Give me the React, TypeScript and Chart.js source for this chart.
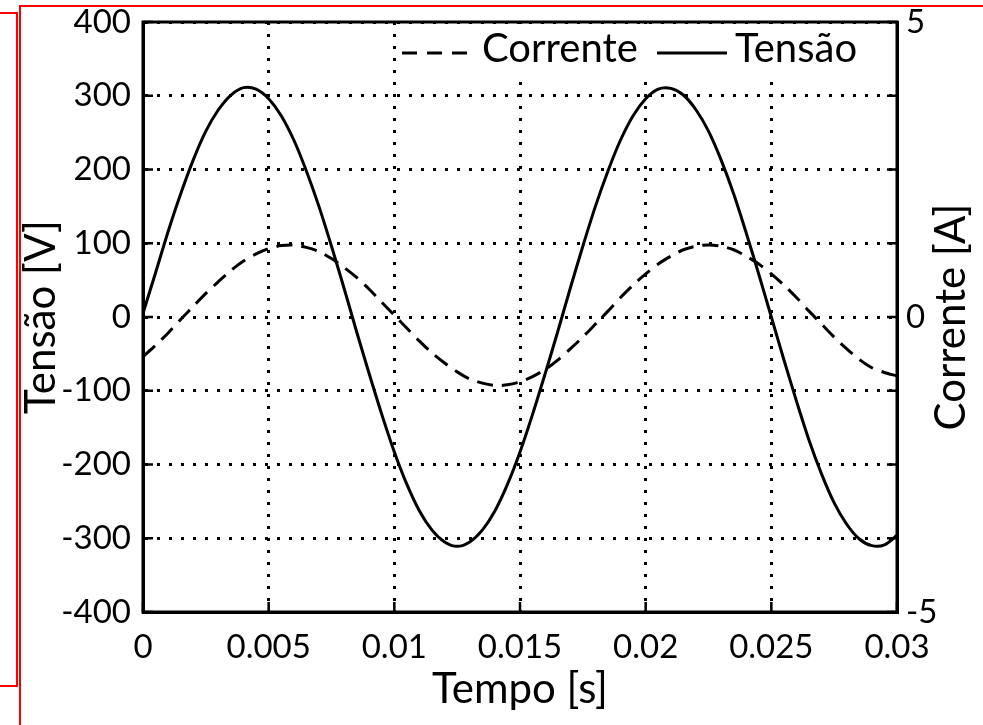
import React, { useEffect, useRef } from 'react';
import { Chart, registerables } from 'chart.js';
Chart.register(...registerables);

const tempo = [0, 0.0005, 0.001, 0.0015, 0.002, 0.0025, 0.003, 0.0035, 0.004, 0.0045, 0.005, 0.0055, 0.006, 0.0065, 0.007, 0.0075, 0.008, 0.0085, 0.009, 0.0095, 0.01, 0.0105, 0.011, 0.0115, 0.012, 0.0125, 0.013, 0.0135, 0.014, 0.0145, 0.015, 0.0155, 0.016, 0.0165, 0.017, 0.0175, 0.018, 0.0185, 0.019, 0.0195, 0.02, 0.0205, 0.021, 0.0215, 0.022, 0.0225, 0.023, 0.0235, 0.024, 0.0245, 0.025, 0.0255, 0.026, 0.0265, 0.027, 0.0275, 0.028, 0.0285, 0.029, 0.0295, 0.03];

const tensao = [5, 60, 116, 167, 213, 252, 281, 301, 311, 309, 296, 273, 240, 198, 150, 96, 39, -20, -77, -132, -183, -227, -263, -289, -305, -311, -305, -289, -263, -227, -183, -132, -77, -20, 39, 96, 150, 198, 240, 273, 296, 309, 310, 301, 281, 252, 213, 167, 114, 58, 0, -58, -114, -167, -213, -252, -281, -301, -310, -309, -296];

const corrente = [-0.67, -0.48, -0.27, -0.04, 0.18, 0.40, 0.60, 0.79, 0.95, 1.07, 1.16, 1.21, 1.22, 1.18, 1.11, 0.99, 0.84, 0.67, 0.47, 0.25, 0.03, -0.19, -0.41, -0.61, -0.78, -0.93, -1.05, -1.12, -1.16, -1.15, -1.10, -1.01, -0.89, -0.73, -0.54, -0.34, -0.12, 0.10, 0.33, 0.54, 0.73, 0.90, 1.03, 1.14, 1.20, 1.22, 1.20, 1.14, 1.03, 0.90, 0.73, 0.54, 0.33, 0.10, -0.12, -0.34, -0.54, -0.72, -0.86, -0.94, -1.00];

const xTickLabels = ['0', '0.005', '0.01', '0.015', '0.02', '0.025', '0.03'];
const rightTickLabels = ['-5', '0', '5'];

const FONT = 'Lato';

const decorPlugin = {
  id: 'decor',
  afterDraw(chart: any) {
    const { ctx, chartArea } = chart;
    const { left, right, top, bottom } = chartArea;
    const yL = chart.scales.y;
    const x = chart.scales.x;
    ctx.save();
    // legend box
    ctx.fillStyle = '#fff';
    ctx.fillRect(398, top + 2, right - 400, 52);
    ctx.strokeStyle = '#000';
    ctx.lineWidth = 3;
    ctx.setLineDash([15, 10]);
    ctx.beginPath();
    ctx.moveTo(402, 53);
    ctx.lineTo(470, 53);
    ctx.stroke();
    ctx.setLineDash([]);
    ctx.beginPath();
    ctx.moveTo(657, 53);
    ctx.lineTo(727, 53);
    ctx.stroke();
    ctx.fillStyle = '#000';
    ctx.font = `40px ${FONT}`;
    ctx.textBaseline = 'alphabetic';
    ctx.textAlign = 'left';
    ctx.fillText('Corrente', 482, 62);
    ctx.fillText('Tensão', 735, 62);
    // inward ticks
    ctx.lineWidth = 2.5;
    ctx.beginPath();
    yL.ticks.forEach((t: any) => {
      const py = yL.getPixelForValue(t.value);
      ctx.moveTo(left, py);
      ctx.lineTo(left + 10, py);
      ctx.moveTo(right, py);
      ctx.lineTo(right - 10, py);
    });
    x.ticks.forEach((t: any) => {
      const px = x.getPixelForValue(t.value);
      ctx.moveTo(px, bottom);
      ctx.lineTo(px, bottom - 10);
    });
    ctx.stroke();
    // frame
    ctx.lineWidth = 3;
    ctx.strokeRect(left, top, right - left, bottom - top);
    // right title
    ctx.save();
    ctx.translate(951, (top + bottom) / 2);
    ctx.rotate(-Math.PI / 2);
    ctx.font = `42px ${FONT}`;
    ctx.textAlign = 'center';
    ctx.textBaseline = 'middle';
    ctx.fillText('Corrente [A]', 0, 0);
    ctx.restore();
    ctx.restore();
  },
};

const noPadY = (w: number) => (s: any) => {
  s.width = w;
  s.paddingTop = 0;
  s.paddingBottom = 0;
};

export default function App() {
  const ref = useRef<HTMLCanvasElement>(null);
  useEffect(() => {
    if (!ref.current) return;
    const chart = new Chart(ref.current, {
      type: 'line',
      data: {
        datasets: [
          {
            label: 'Tensão',
            data: tempo.map((t, i) => ({ x: t, y: tensao[i] })),
            borderColor: '#000',
            borderWidth: 3,
            pointRadius: 0,
            tension: 0.3,
            yAxisID: 'y',
          },
          {
            label: 'Corrente',
            data: tempo.map((t, i) => ({ x: t, y: corrente[i] })),
            borderColor: '#000',
            borderWidth: 3,
            borderDash: [16, 9],
            pointRadius: 0,
            tension: 0.3,
            yAxisID: 'y1',
          },
        ],
      },
      options: {
        animation: false,
        responsive: false,
        devicePixelRatio: 1,
        layout: { padding: { top: 22, left: 0, right: 0, bottom: 0 } },
        plugins: { legend: { display: false }, tooltip: { enabled: false } },
        scales: {
          x: {
            type: 'linear',
            min: 0,
            max: 0.03,
            afterFit: (s: any) => {
              s.height = 113;
              s.paddingLeft = 0;
              s.paddingRight = 0;
            },
            afterBuildTicks: (s: any) => {
              s.ticks = xTickLabels.map((l) => ({ value: parseFloat(l) }));
            },
            ticks: {
              callback: (_v: any, i: number) => xTickLabels[i],
              font: { family: FONT, size: 33 },
              color: '#000',
              padding: 16,
              maxRotation: 0,
              autoSkip: false,
            },
            grid: { color: '#000', lineWidth: 3, drawTicks: false },
            border: { display: true, color: '#000', width: 3, dash: [3, 9] },
            title: {
              display: true,
              text: 'Tempo [s]',
              font: { family: FONT, size: 42 },
              color: '#000',
              padding: { top: 0, bottom: 10 },
            },
          },
          y: {
            position: 'left',
            min: -400,
            max: 400,
            afterFit: noPadY(143),
            ticks: {
              stepSize: 100,
              callback: (v: any) => String(v),
              font: { family: FONT, size: 33 },
              color: '#000',
              padding: 12,
            },
            grid: { color: '#000', lineWidth: 3, drawTicks: false },
            border: { display: true, color: '#000', width: 3, dash: [3, 9] },
            title: {
              display: true,
              text: 'Tensão [V]',
              font: { family: FONT, size: 42 },
              color: '#000',
              padding: { top: 16, bottom: 0 },
            },
          },
          y1: {
            position: 'right',
            min: -5,
            max: 5,
            afterFit: noPadY(86),
            afterBuildTicks: (s: any) => {
              s.ticks = rightTickLabels.map((l) => ({ value: parseFloat(l) }));
            },
            ticks: {
              callback: (_v: any, i: number) => rightTickLabels[i],
              font: { family: FONT, size: 33 },
              color: '#000',
              padding: 9,
              autoSkip: false,
            },
            grid: { display: false, drawTicks: false },
            border: { display: true, color: '#000', width: 3 },
          },
        },
      },
      plugins: [decorPlugin],
    });
    return () => chart.destroy();
  }, []);

  return (
    <div style={{ position: 'absolute', left: 0, top: 0, width: 983, height: 725, overflow: 'hidden', background: '#fff' }}>
      <canvas ref={ref} width={983} height={725} style={{ display: 'block', width: 983, height: 725 }} />
      <div style={{ position: 'absolute', left: -10, top: 12, width: 24, height: 671, border: '2px solid #ff0000' }} />
      <div style={{ position: 'absolute', left: 19, top: 5, width: 1100, height: 900, border: '2px solid #ff0000' }} />
    </div>
  );
}
